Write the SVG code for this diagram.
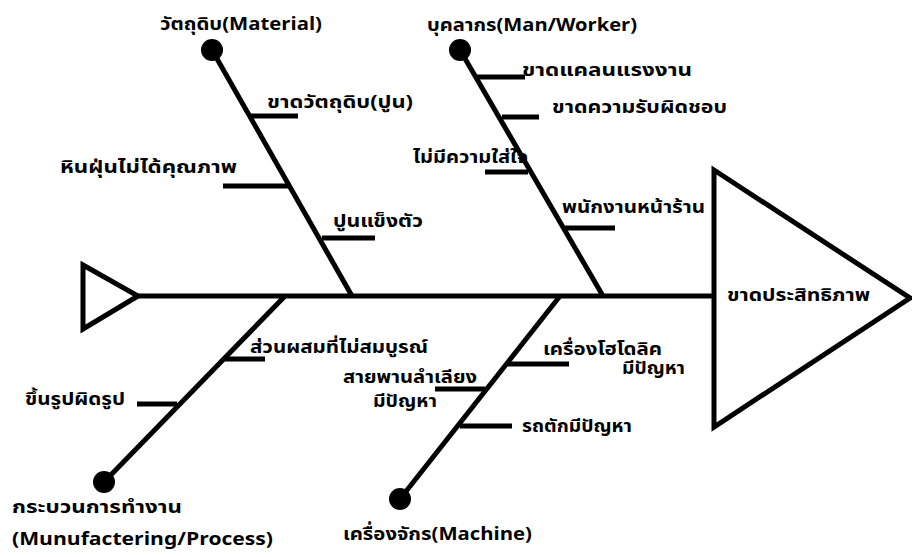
<svg xmlns="http://www.w3.org/2000/svg" width="912" height="557" viewBox="0 0 912 557">
<style>
.ln{stroke:#000;stroke-width:5;fill:none;stroke-linecap:butt}
.tri{stroke:#000;stroke-width:5;fill:#fff;stroke-linejoin:miter}
text{font-family:"Noto Sans Thai","Noto Sans","DejaVu Sans","Liberation Sans",sans-serif;font-weight:bold;font-size:17px;fill:#000}
.cat{font-size:18px}
</style>
<rect width="912" height="557" fill="#fff"/>
<g id="connectors">
<line class="ln" x1="138" y1="296" x2="714" y2="296"/>
<line class="ln" x1="212" y1="50" x2="352" y2="296"/>
<line class="ln" x1="460" y1="50" x2="603" y2="296"/>
<line class="ln" x1="104" y1="482" x2="285" y2="296"/>
<line class="ln" x1="400" y1="499" x2="560" y2="296"/>
</g>
<g id="tail"><polygon class="tri" points="83,265 138,296 83,329"/></g>
<g id="head"><polygon class="tri" points="714,170 910,298 714,427"/><text x="727" y="301" textLength="143" lengthAdjust="spacingAndGlyphs">ขาดประสิทธิภาพ</text></g>
<g id="material">
<circle cx="212" cy="50" r="11"/>
<text class="cat" x="160" y="30" textLength="162" lengthAdjust="spacingAndGlyphs">วัตถุดิบ(Material)</text>
<g id="m1"><line class="ln" x1="250" y1="116" x2="298" y2="116"/><text x="267" y="108" textLength="146" lengthAdjust="spacingAndGlyphs">ขาดวัตถุดิบ(ปูน)</text></g>
<g id="m2"><line class="ln" x1="223" y1="186" x2="288" y2="186"/><text x="60" y="173" textLength="177" lengthAdjust="spacingAndGlyphs">หินฝุ่นไม่ได้คุณภาพ</text></g>
<g id="m3"><line class="ln" x1="322" y1="238" x2="375" y2="238"/><text x="333" y="227" textLength="90" lengthAdjust="spacingAndGlyphs">ปูนแข็งตัว</text></g>
</g>
<g id="man">
<circle cx="460" cy="50" r="11"/>
<text class="cat" x="427" y="31" textLength="210" lengthAdjust="spacingAndGlyphs">บุคลากร(Man/Worker)</text>
<g id="w1"><line class="ln" x1="477" y1="77" x2="525" y2="77"/><text x="522" y="76" style="font-size:18px" textLength="170" lengthAdjust="spacingAndGlyphs">ขาดแคลนแรงงาน</text></g>
<g id="w2"><line class="ln" x1="502" y1="117" x2="539" y2="117"/><text x="552" y="113" textLength="175" lengthAdjust="spacingAndGlyphs">ขาดความรับผิดชอบ</text></g>
<g id="w3"><line class="ln" x1="485" y1="172" x2="528" y2="172"/><text x="413" y="163" textLength="115" lengthAdjust="spacingAndGlyphs">ไม่มีความใส่ใจ</text></g>
<g id="w4"><line class="ln" x1="565" y1="228" x2="615" y2="228"/><text x="562" y="213" textLength="143" lengthAdjust="spacingAndGlyphs">พนักงานหน้าร้าน</text></g>
</g>
<g id="process">
<circle cx="104" cy="482" r="11"/>
<text class="cat" x="12" y="513" textLength="170" lengthAdjust="spacingAndGlyphs">กระบวนการทำงาน</text>
<text class="cat" x="12" y="545" textLength="261" lengthAdjust="spacingAndGlyphs">(Munufactering/Process)</text>
<g id="p1"><line class="ln" x1="225" y1="359" x2="265" y2="359"/><text x="250" y="353" textLength="178" lengthAdjust="spacingAndGlyphs">ส่วนผสมที่ไม่สมบูรณ์</text></g>
<g id="p2"><line class="ln" x1="137" y1="404" x2="177" y2="404"/><text x="25" y="405" textLength="100" lengthAdjust="spacingAndGlyphs">ขึ้นรูปผิดรูป</text></g>
</g>
<g id="machine">
<circle cx="400" cy="499" r="11"/>
<text class="cat" x="343" y="540" textLength="189" lengthAdjust="spacingAndGlyphs">เครื่องจักร(Machine)</text>
<g id="c1"><line class="ln" x1="508" y1="364" x2="569" y2="364"/><text x="543" y="355" textLength="119" lengthAdjust="spacingAndGlyphs">เครื่องโฮโดลิค</text><text x="622" y="374" textLength="63" lengthAdjust="spacingAndGlyphs">มีปัญหา</text></g>
<g id="c2"><line class="ln" x1="435" y1="389" x2="485" y2="389"/><text x="343" y="383" textLength="134" lengthAdjust="spacingAndGlyphs">สายพานลำเลียง</text><text x="373" y="407" textLength="64" lengthAdjust="spacingAndGlyphs">มีปัญหา</text></g>
<g id="c3"><line class="ln" x1="460" y1="426" x2="512" y2="426"/><text x="522" y="432" textLength="110" lengthAdjust="spacingAndGlyphs">รถตักมีปัญหา</text></g>
</g>
</svg>
